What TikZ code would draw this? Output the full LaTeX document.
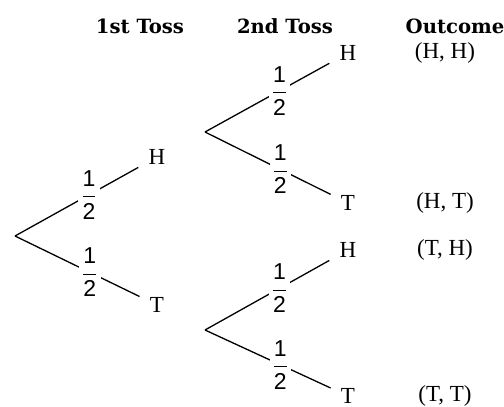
\documentclass[tikz,border=0pt]{standalone}
\usepackage{fontspec}
\setmainfont{Liberation Serif}
\setsansfont{Liberation Sans}
\newfontfamily\headfont{DejaVu Serif}
\newcommand{\halfprob}{$\displaystyle\frac{\textsf{1}}{\textsf{2}}$}
\usetikzlibrary{positioning}

\begin{document}
\begin{tikzpicture}[x=0.5pt, y=-0.5pt,
      branch/.style={line width=0.65pt},
      prob/.style={pos=0.6, fill=white, inner sep=1pt, font=\fontsize{11.5}{13}\selectfont},
      side/.style={inner sep=5pt, font=\fontsize{11.5}{13}\selectfont},
      outc/.style={inner sep=1pt, font=\fontsize{11.5}{13}\selectfont},
      head/.style={inner sep=1pt, font=\headfont\bfseries\fontsize{9.8}{12}\selectfont}]
      \useasboundingbox (0,0) rectangle (504,407);
      % Column titles
      \node[head] (toss1) at (140,26) {1st Toss};
      \node[head] (toss2) at (285,26) {2nd Toss};
      \node[head] (outcome) at (455,26) {Outcome};
      % First toss
      \coordinate (root) at (15,236);
      \node[side] (h1) at (157,157) {H};
      \node[side] (t1) at (157,305) {T};
      \draw[branch] (root) -- node[prob] {\halfprob} (h1);
      \draw[branch] (root) -- node[prob] {\halfprob} (t1);
      % Second toss after H
      \coordinate (forkH) at (205,132);
      \node[side] (hh) at (348,53) {H};
      \node[side] (ht) at (348,203) {T};
      \draw[branch] (forkH) -- node[prob] {\halfprob} (hh);
      \draw[branch] (forkH) -- node[prob] {\halfprob} (ht);
      % Second toss after T
      \coordinate (forkT) at (205,330);
      \node[side] (th) at (348,250) {H};
      \node[side] (tt) at (348,396) {T};
      \draw[branch] (forkT) -- node[prob] {\halfprob} (th);
      \draw[branch] (forkT) -- node[prob] {\halfprob} (tt);
      % Outcomes
      \node[outc] (oHH) at (445,53) {(H, H)};
      \node[outc] (oHT) at (445,203) {(H, T)};
      \node[outc] (oTH) at (445,250) {(T, H)};
      \node[outc] (oTT) at (445,396) {(T, T)};
\end{tikzpicture}
\end{document}
